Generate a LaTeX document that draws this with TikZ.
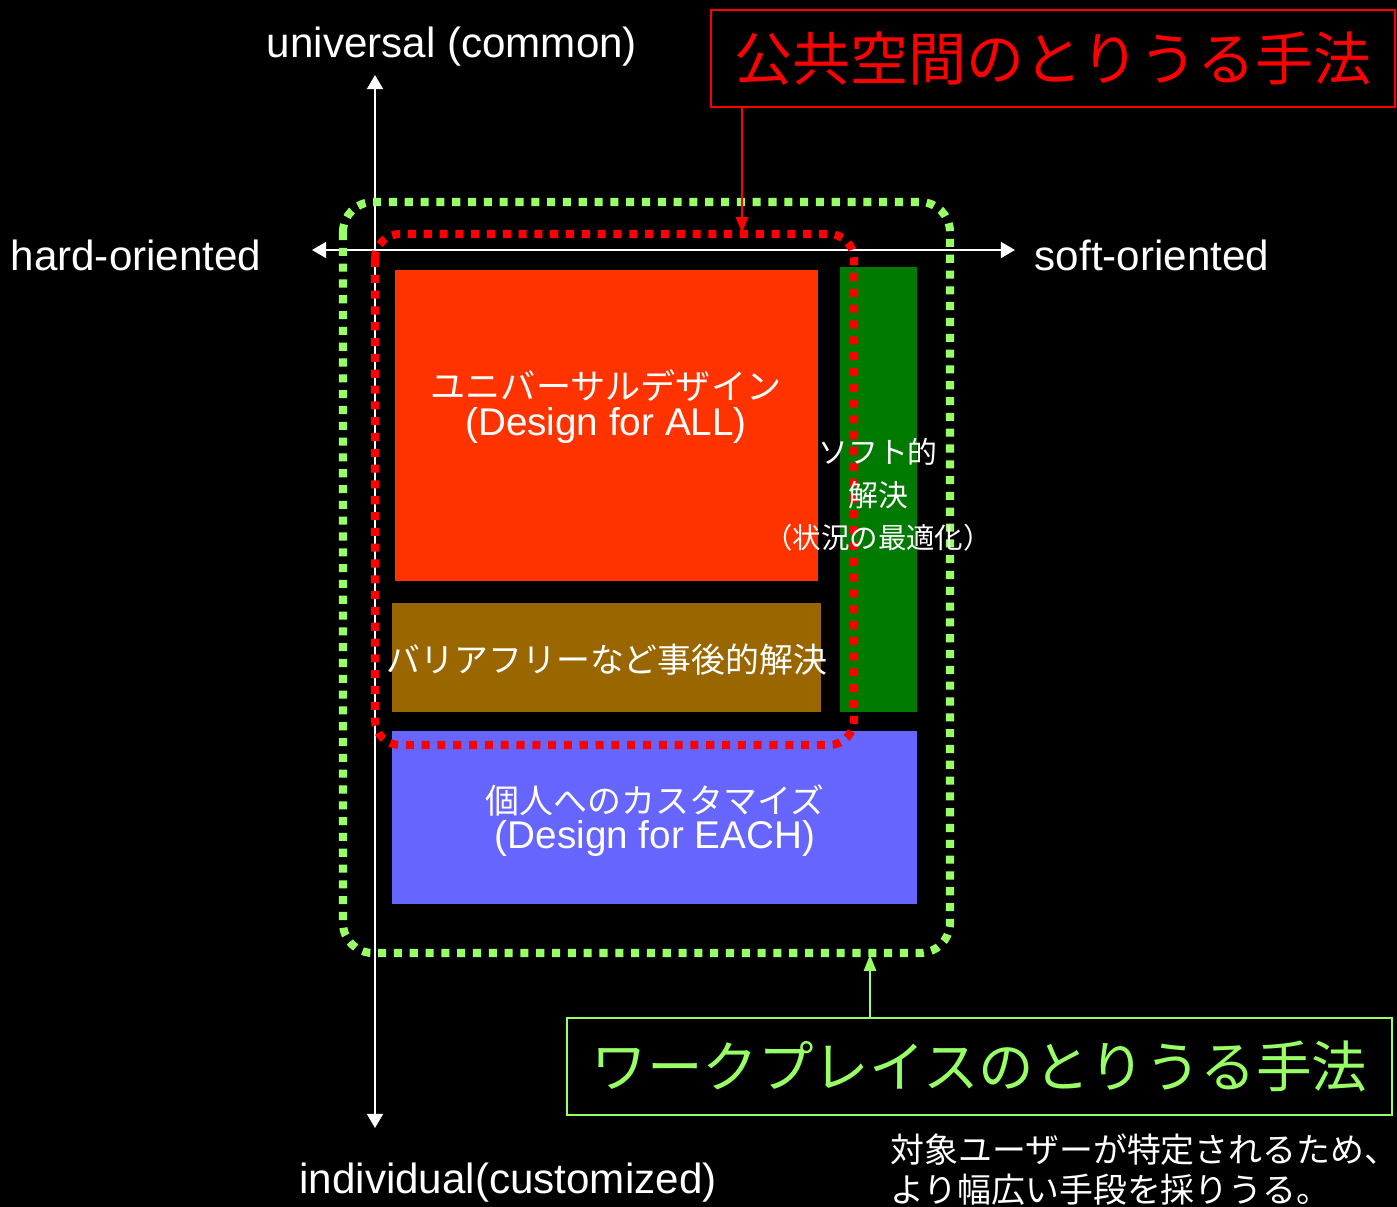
\documentclass[tikz,border=0pt]{standalone}
\usepackage{fontspec}
\setmainfont{Liberation Sans}
\newfontfamily\jpfont{Noto Sans CJK JP}
\usepackage{xcolor}
\usetikzlibrary{
    arrows.meta,
    positioning
}
\definecolor{titlered}{RGB}{255,0,0}
\definecolor{workgreen}{RGB}{153,255,102}
\definecolor{allorange}{RGB}{255,51,0}
\definecolor{softgreen}{RGB}{0,122,0}
\definecolor{afterbrown}{RGB}{153,102,0}
\definecolor{eachblue}{RGB}{102,102,255}
\tikzset{
    % white axis, head at both ends
    axisline/.style={
        draw=white, line width=1.2pt,
        {Triangle[width=9pt,length=8pt]}-{Triangle[width=9pt,length=8pt]}
    },
    axislabel/.style={
        text=white, inner sep=0pt,
        font=\fontsize{24}{28}\selectfont
    },
    % thick dotted frame round a group of blocks
    dotframe/.style={
        draw=#1, line width=4.6pt,
        dash pattern=on 4.6pt off 4.4pt
    },
    % framed title and its pointer
    titlebox/.style={
        draw=#1, text=#1, line width=1.1pt, inner sep=0pt,
        minimum height=1.94cm
    },
    pointer/.style={
        draw=#1, line width=0.8pt,
        -{Triangle[width=7pt,length=9pt]}
    },
    jptext/.style={
        text=white, inner sep=0pt,
        font=\jpfont\fontsize{#1}{#1}\selectfont
    },
    entext/.style={
        text=white, inner sep=0pt,
        font=\fontsize{#1}{#1}\selectfont
    }
}

\begin{document}
\begin{tikzpicture}[x=0.02cm, y=-0.02cm]
    \useasboundingbox (0,0) rectangle (1397,1207);
    \fill[black] (0,0) rectangle (1397,1207);

    % blocks
    \fill[allorange] (395,270) rectangle (818,581);
    \fill[softgreen] (840,267) rectangle (917,712);
    \fill[afterbrown] (392,603) rectangle (821,712);
    \fill[eachblue] (392,731) rectangle (917,904);

    % axes
    \coordinate (top) at (375,75);
    \coordinate (bottom) at (375,1128);
    \coordinate (left) at (312,250);
    \coordinate (right) at (1015,250);
    \draw[axisline] (bottom) -- (top);
    \draw[axisline] (left) -- (right);
    \node[axislabel] (universal) at (452,47) {universal (common)};
    \node[axislabel] (hard) at (136,255) {hard-oriented};
    \node[axislabel] (soft) at (1152,255) {soft-oriented};
    \node[axislabel] (individual) at (508,1183) {individual(customized)};

    % frames
    \draw[dotframe=workgreen, rounded corners=0.6cm] (343,202) rectangle (950,953);
    \draw[dotframe=titlered, rounded corners=0.5cm] (375,234) rectangle (854,745);

    % block texts
    \node[jptext=20] (udname) at (606,386) {ユニバーサルデザイン};
    \node[entext=22] (udsub) at (606,426) {(Design for ALL)};
    \node[jptext=17] (softa) at (878,452) {ソフト的};
    \node[jptext=17] (softb) at (878,495) {解決};
    \node[jptext=16.2] (softc) at (878,538) {（状況の最適化）};
    \node[jptext=19.3] (after) at (607,660) {バリアフリーなど事後的解決};
    \node[jptext=19.3] (eachname) at (655,800) {個人へのカスタマイズ};
    \node[entext=22] (eachsub) at (655,838) {(Design for EACH)};

    % titles
    \node[titlebox=titlered, minimum width=13.68cm,
          font=\jpfont\fontsize{33}{33}\selectfont] (public) at (1053,58.5) {公共空間のとりうる手法};
    \coordinate (publictip) at (742,233);
    \draw[pointer=titlered] (public.south -| publictip) -- (publictip);

    \node[titlebox=workgreen, minimum width=16.5cm,
          font=\jpfont\fontsize{31.6}{31.6}\selectfont] (work) at (979.5,1066.5) {ワークプレイスのとりうる手法};
    \coordinate (worktip) at (870,955);
    \draw[pointer=workgreen] (work.north -| worktip) -- (worktip);

    \node[jptext=19.3, anchor=west] (notea) at (890,1150) {対象ユーザーが特定されるため、};
    \node[jptext=19.3, anchor=west] (noteb) at (890,1190) {より幅広い手段を採りうる。};
\end{tikzpicture}
\end{document}
